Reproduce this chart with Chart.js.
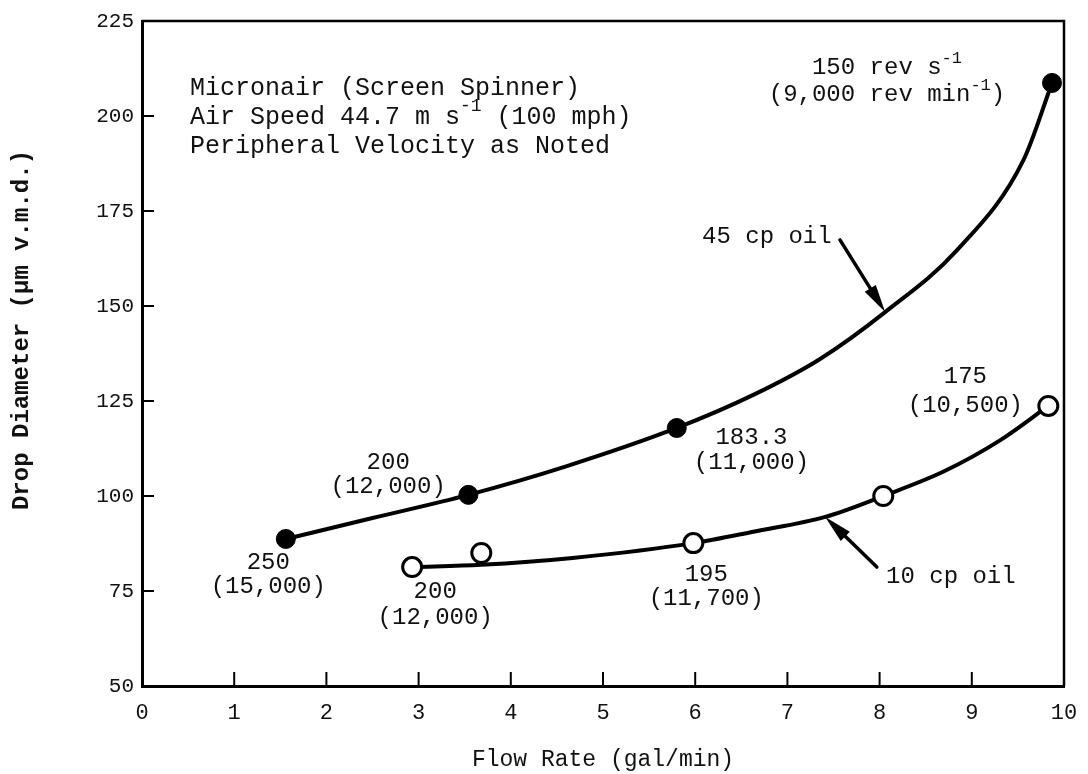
<!DOCTYPE html>
<html><head><meta charset="utf-8">
<script src="https://cdn.jsdelivr.net/npm/chart.js@4"></script>
<style>html,body{margin:0;padding:0;background:#fff}canvas{display:block}</style>
</head><body>
<canvas id="c" width="1088" height="774"></canvas>
<script>
// ---- data ----
const xTicks = [0,1,2,3,4,5,6,7,8,9,10];
const yTicks = [50,75,100,125,150,175,200,225];
const oil45X = [1.56, 3.54, 5.80, 9.87];
const oil45Y = [88.7, 100.3, 117.9, 208.7];
const oil10X = [2.93, 3.68, 5.98, 8.04, 9.83];
const oil10Y = [81.3, 85.0, 87.6, 100.0, 123.7];
const curve45X = [1.56, 2.5, 3.54, 4.6, 5.80, 6.63, 7.35, 8.06, 8.84, 9.56, 9.87];
const curve45Y = [88.7, 94.2, 100.3, 107.8, 117.9, 126.6, 136.0, 148.4, 164.7, 188.4, 208.7];
const curve10X = [2.93, 3.68, 4.67, 5.98, 6.63, 7.41, 8.04, 8.7, 9.31, 9.83];
const curve10Y = [81.3, 81.9, 83.7, 87.6, 90.6, 94.5, 100.0, 106.5, 114.7, 123.7];
const speedTop = ['250', '200', '183.3', '150 rev s'];
const speedSub = ['(15,000)', '(12,000)', '(11,000)', '(9,000 rev min'];
const speed10Top = ['200', '195', '175'];
const speed10Sub = ['(12,000)', '(11,700)', '(10,500)'];
const noteLines = ['Micronair (Screen Spinner)', 'Air Speed 44.7 m s', 'Peripheral Velocity as Noted'];
const seriesNames = ['45 cp oil', '10 cp oil'];
const xTitle = 'Flow Rate (gal/min)';
const yTitle = 'Drop Diameter (\u03bcm v.m.d.)';

// ---- layout (data coordinates for annotations) ----
const FONT = '"Liberation Mono", "DejaVu Sans Mono", monospace';
const labelPos45 = [[1.37, 82.4, 76.1], [2.67, 108.9, 102.4], [6.61, 115.3, 108.9], [8.08, 212.6, 205.5]];
const labelPos10 = [[3.18, 74.7, 67.9], [6.12, 79.2, 72.9], [8.93, 131.3, 123.9]];

const pts = (xs, ys) => xs.map((x, i) => ({x, y: ys[i]}));

function drawRich(ctx, segs, x, y, align, size) {
  size = size || 24;
  const base = size + 'px ' + FONT, sup = Math.round(size * 0.7) + 'px ' + FONT;
  let w = 0;
  segs.forEach(s => { ctx.font = s[1] ? sup : base; w += ctx.measureText(s[0]).width; });
  let cx = align === 'center' ? x - w / 2 : (align === 'right' ? x - w : x);
  ctx.textAlign = 'left'; ctx.textBaseline = 'middle';
  segs.forEach(s => {
    ctx.font = s[1] ? sup : base;
    ctx.fillText(s[0], cx, s[1] ? y - size * 0.42 : y);
    cx += ctx.measureText(s[0]).width;
  });
}
function arrow(ctx, x1, y1, x2, y2) {
  ctx.save();
  ctx.strokeStyle = '#000'; ctx.fillStyle = '#000'; ctx.lineWidth = 3.5; ctx.lineCap = 'round';
  const a = Math.atan2(y2 - y1, x2 - x1), L = 28, H = 6.5;
  ctx.beginPath(); ctx.moveTo(x1, y1); ctx.lineTo(x2 - L * 0.6 * Math.cos(a), y2 - L * 0.6 * Math.sin(a)); ctx.stroke();
  ctx.beginPath();
  ctx.moveTo(x2, y2);
  ctx.lineTo(x2 - L * Math.cos(a) + H * Math.sin(a), y2 - L * Math.sin(a) - H * Math.cos(a));
  ctx.lineTo(x2 - L * Math.cos(a) - H * Math.sin(a), y2 - L * Math.sin(a) + H * Math.cos(a));
  ctx.closePath(); ctx.fill();
  ctx.restore();
}

const decor = {
  id: 'decor',
  beforeDraw(chart) {
    const c = chart.ctx; c.save(); c.fillStyle = '#fff'; c.fillRect(0, 0, chart.width, chart.height); c.restore();
  },
  afterDraw(chart) {
    const ctx = chart.ctx, xs = chart.scales.x, ys = chart.scales.y, a = chart.chartArea;
    const X = v => xs.getPixelForValue(v), Y = v => ys.getPixelForValue(v);
    ctx.save();
    ctx.strokeStyle = '#000';
    // frame top/right
    ctx.lineWidth = 2.5;
    ctx.beginPath(); ctx.moveTo(a.left, a.top); ctx.lineTo(a.right, a.top); ctx.lineTo(a.right, a.bottom); ctx.stroke();
    // inward ticks
    ctx.lineWidth = 2;
    xTicks.slice(1, -1).forEach(v => { ctx.beginPath(); ctx.moveTo(X(v), a.bottom); ctx.lineTo(X(v), a.bottom - 14); ctx.stroke(); });
    yTicks.slice(1, -1).forEach(v => { ctx.beginPath(); ctx.moveTo(a.left, Y(v)); ctx.lineTo(a.left + 12, Y(v)); ctx.stroke(); });
    ctx.fillStyle = '#111';
    // y title
    ctx.save();
    ctx.translate(22, 330); ctx.rotate(-Math.PI / 2);
    ctx.font = 'bold 24px ' + FONT; ctx.textAlign = 'center'; ctx.textBaseline = 'middle';
    ctx.fillText(yTitle, 0, 0);
    ctx.restore();
    // notes
    drawRich(ctx, [[noteLines[0]]], X(0.52), Y(207.4), 'left', 25);
    drawRich(ctx, [[noteLines[1]], ['-1', true], [' (100 mph)']], X(0.52), Y(199.7), 'left', 25);
    drawRich(ctx, [[noteLines[2]]], X(0.52), Y(192.1), 'left', 25);
    // speed labels 45 cp
    labelPos45.forEach((p, i) => {
      if (i === 3) {
        drawRich(ctx, [[speedTop[i]], ['-1', true]], X(p[0]), Y(p[1]), 'center');
        drawRich(ctx, [[speedSub[i]], ['-1', true], [')']], X(p[0]), Y(p[2]), 'center');
      } else {
        drawRich(ctx, [[speedTop[i]]], X(p[0]), Y(p[1]), 'center');
        drawRich(ctx, [[speedSub[i]]], X(p[0]), Y(p[2]), 'center');
      }
    });
    labelPos10.forEach((p, i) => {
      drawRich(ctx, [[speed10Top[i]]], X(p[0]), Y(p[1]), 'center');
      drawRich(ctx, [[speed10Sub[i]]], X(p[0]), Y(p[2]), 'center');
    });
    // series labels + arrows
    drawRich(ctx, [[seriesNames[0]]], X(7.48), Y(168.2), 'right');
    arrow(ctx, X(7.57), Y(167.4), X(8.06), Y(148.4));
    drawRich(ctx, [[seriesNames[1]]], X(8.07), Y(78.7), 'left');
    arrow(ctx, X(7.97), Y(81.3), X(7.41), Y(94.5));
    ctx.restore();
  }
};

new Chart(document.getElementById('c'), {
  type: 'scatter',
  data: {
    datasets: [
      { label: seriesNames[0] + ' curve', data: pts(curve45X, curve45Y), showLine: true, borderColor: '#000', borderWidth: 4,
        pointRadius: 0, cubicInterpolationMode: 'monotone', order: 2 },
      { label: seriesNames[1] + ' curve', data: pts(curve10X, curve10Y), showLine: true, borderColor: '#000', borderWidth: 4,
        pointRadius: 0, cubicInterpolationMode: 'monotone', order: 2 },
      { label: seriesNames[0], data: pts(oil45X, oil45Y), showLine: false, pointRadius: 9.5, pointBackgroundColor: '#000',
        pointBorderColor: '#000', pointBorderWidth: 1, order: 1 },
      { label: seriesNames[1], data: pts(oil10X, oil10Y), showLine: false, pointRadius: 9.5, pointBackgroundColor: '#fff',
        pointBorderColor: '#000', pointBorderWidth: 3, order: 1 }
    ]
  },
  options: {
    responsive: false, animation: false, devicePixelRatio: 1,
    layout: { padding: { top: 21, right: 24, left: 0, bottom: 0 } },
    plugins: { legend: { display: false }, tooltip: { enabled: false } },
    scales: {
      x: {
        type: 'linear', min: 0, max: 10,
        afterBuildTicks: s => { s.ticks = xTicks.map(v => ({value: v})); },
        afterFit: s => { s.height = 88; s.paddingRight = 0; s.paddingLeft = 0; },
        grid: { display: false, drawTicks: false },
        border: { display: true, color: '#000', width: 3 },
        ticks: { color: '#111', font: { family: FONT, size: 22 }, padding: 14 },
        title: { display: true, text: xTitle, color: '#111', font: { family: FONT, size: 23 }, padding: { top: 20, bottom: 0 } }
      },
      y: {
        type: 'linear', min: 50, max: 225,
        afterBuildTicks: s => { s.ticks = yTicks.map(v => ({value: v})); },
        afterFit: s => { s.width = 142; },
        grid: { display: false, drawTicks: false },
        border: { display: true, color: '#000', width: 3 },
        ticks: { color: '#111', font: { family: FONT, size: 21 }, padding: 8 },
        title: { display: false }
      }
    }
  },
  plugins: [decor]
});
</script>
</body></html>
